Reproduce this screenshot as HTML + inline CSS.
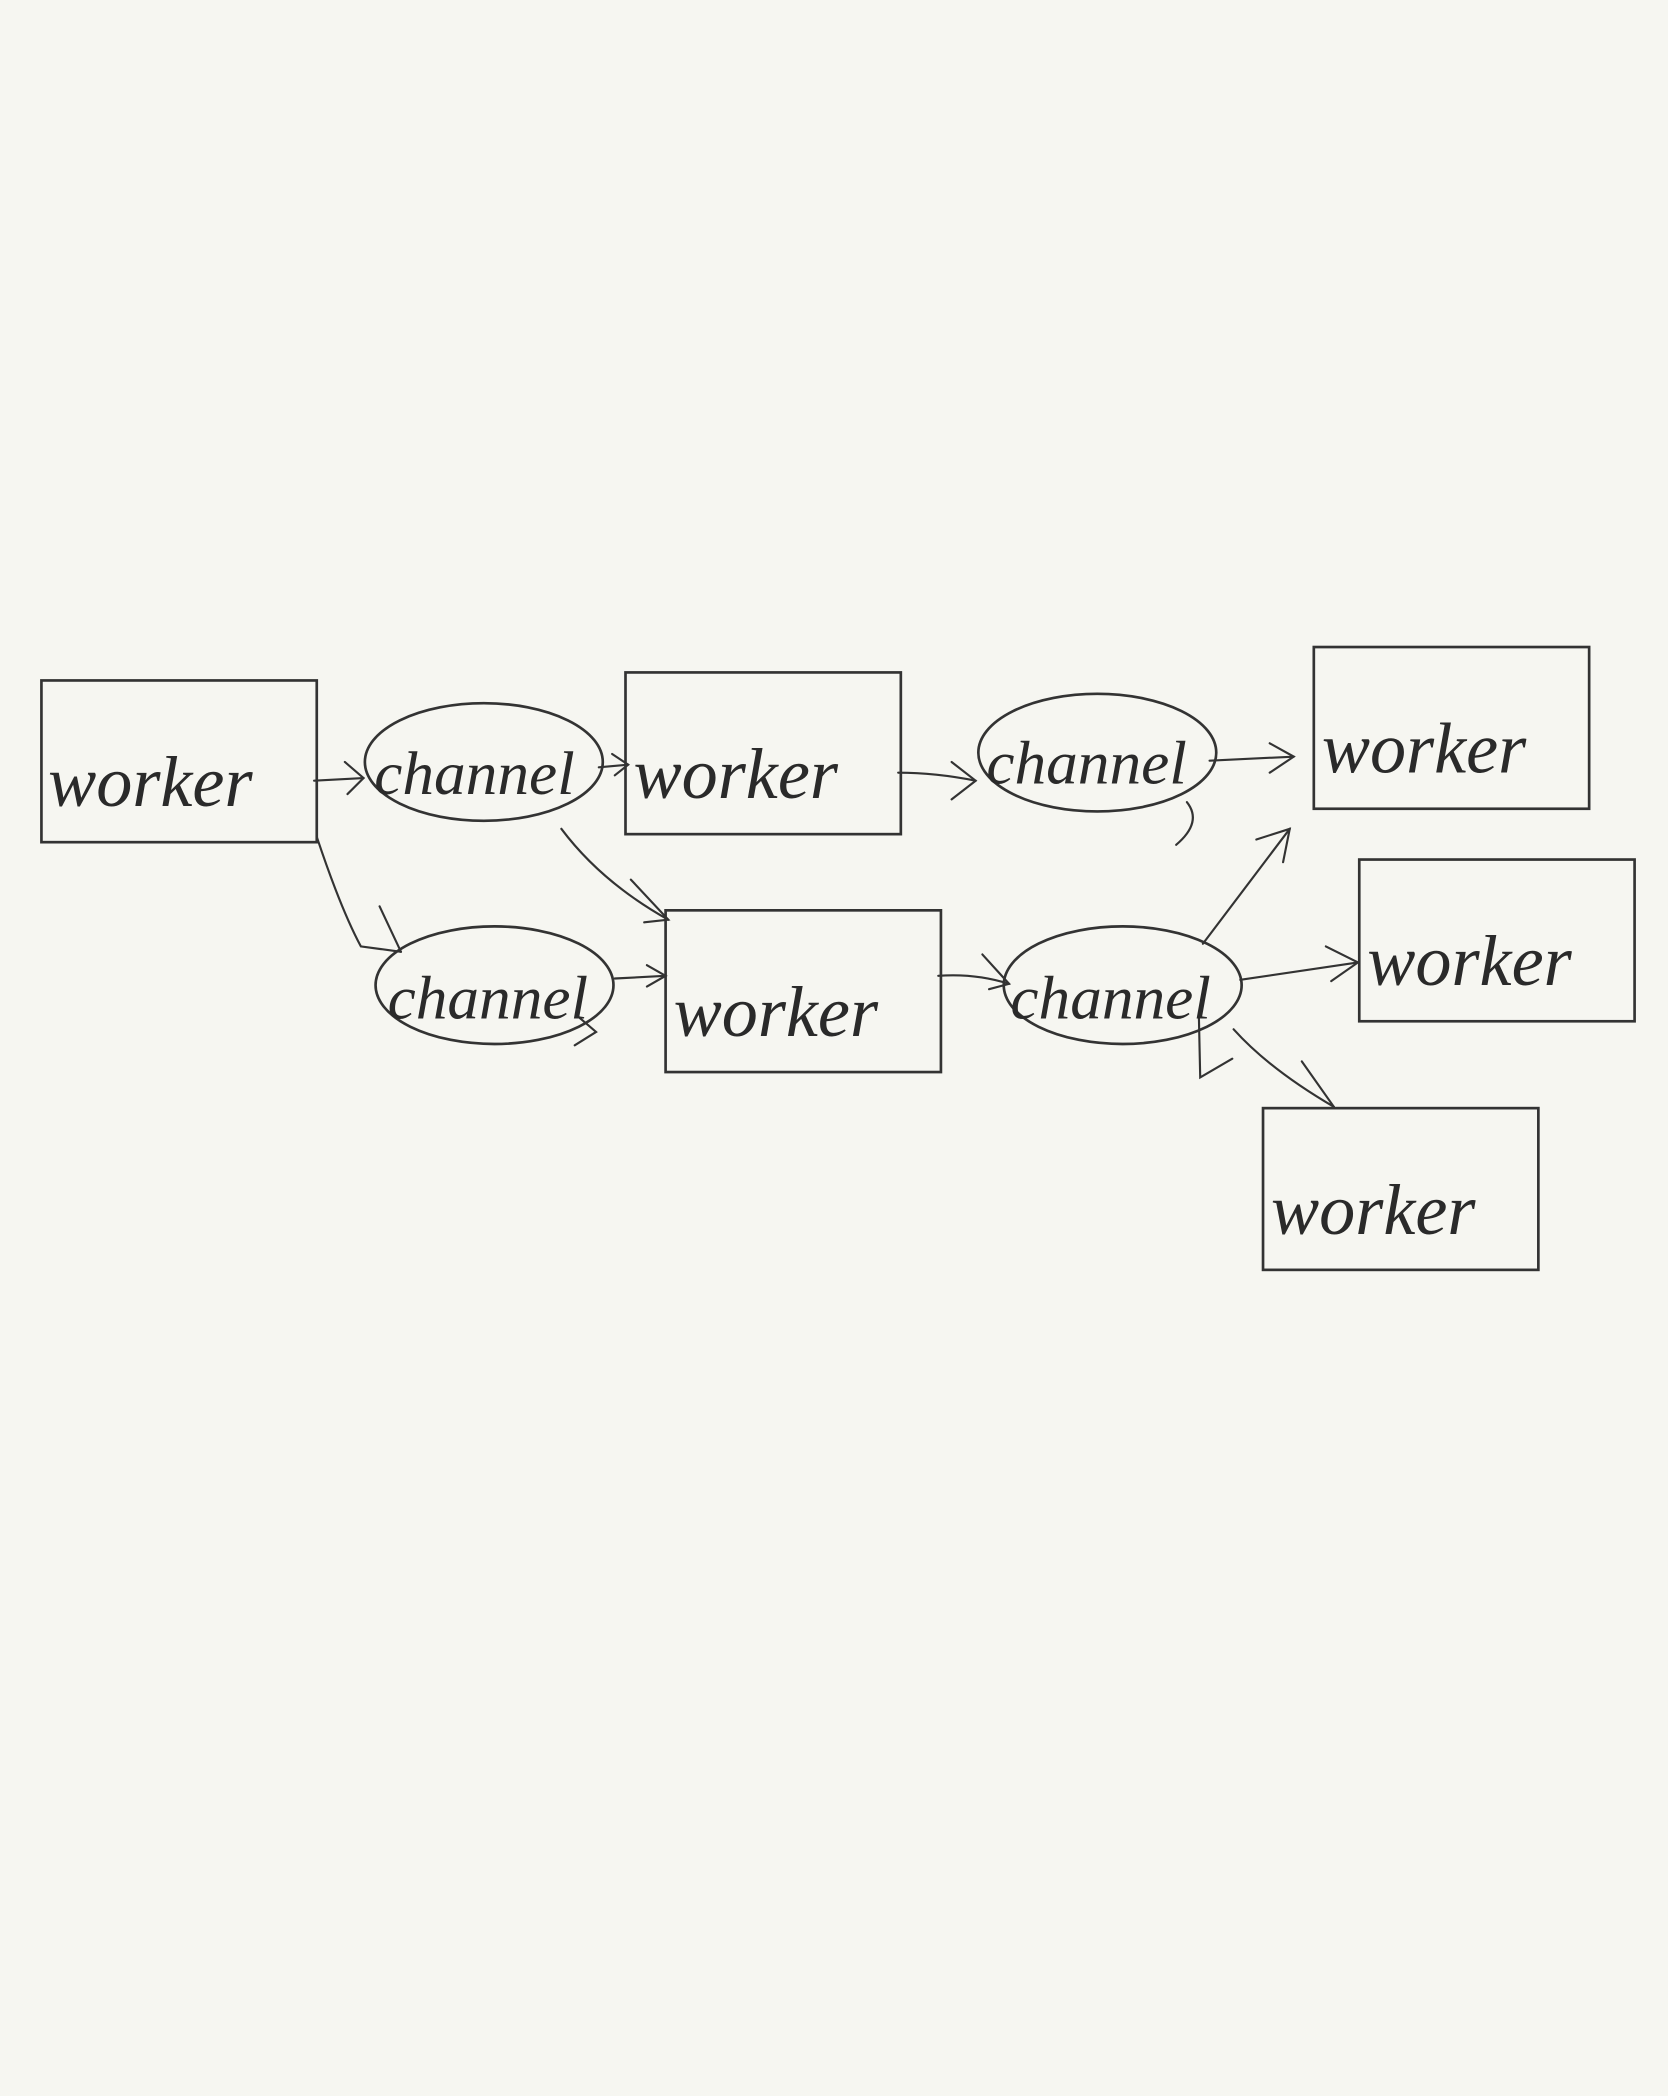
<!DOCTYPE html>
<html><head><meta charset="utf-8"><style>
html,body{margin:0;padding:0;background:#f6f6f1;}
svg{display:block;}
text{font-family:"Liberation Serif",serif;font-style:italic;fill:#2a2a2a;}
</style></head><body>
<svg width="1668" height="2096" viewBox="0 0 1248 1568" xmlns="http://www.w3.org/2000/svg">
<rect width="1248" height="1568" fill="#f6f6f1"/>
<g fill="none" stroke="#333" stroke-width="2">
<rect x="31" y="509" width="206" height="121"/>
<rect x="468" y="503" width="206" height="121"/>
<rect x="983" y="484" width="206" height="121"/>
<rect x="498" y="681" width="206" height="121"/>
<rect x="1017" y="643" width="206" height="121"/>
<rect x="945" y="829" width="206" height="121"/>
<ellipse cx="362" cy="570" rx="89" ry="44"/>
<ellipse cx="821" cy="563" rx="89" ry="44"/>
<ellipse cx="370" cy="737" rx="89" ry="44"/>
<ellipse cx="840" cy="737" rx="89" ry="44"/>
</g>
<g fill="none" stroke="#333" stroke-width="1.6" stroke-linecap="round">
<path d="M235 584 L272 582"/><path d="M258 570 L272 582 L260 594"/>
<path d="M448 574 L470 572"/><path d="M458 564 L470 572 L460 580"/>
<path d="M672 578 Q700 578 730 584"/><path d="M712 570 L730 584 L712 598"/>
<path d="M905 569 L968 566"/><path d="M950 556 L968 566 L950 578"/>
<path d="M888 600 Q900 615 880 632"/>
<path d="M237 626 Q255 680 270 708 L300 712"/><path d="M284 678 L300 712"/>
<path d="M420 620 Q450 660 500 688"/><path d="M472 658 L500 688 L482 690"/>
<path d="M460 732 L498 730"/><path d="M484 722 L498 730 L484 738"/>
<path d="M702 730 Q730 728 755 736"/><path d="M735 714 L755 736 L740 740"/>
<path d="M900 706 L965 620"/><path d="M940 628 L965 620 L960 645"/>
<path d="M928 733 L1016 720"/><path d="M992 708 L1016 720 L996 734"/>
<path d="M923 770 Q950 800 998 828"/><path d="M974 794 L998 828"/>
<path d="M897 760 L898 806 L922 792"/>
<path d="M432 760 L446 772 L430 782"/>
</g>
<g font-size="54">
<text x="36" y="603">worker</text>
<text x="474" y="597">worker</text>
<text x="989" y="578">worker</text>
<text x="504" y="775">worker</text>
<text x="1023" y="737">worker</text>
<text x="951" y="923">worker</text>
</g>
<g font-size="46">
<text x="280" y="594" textLength="150" lengthAdjust="spacingAndGlyphs">channel</text>
<text x="738" y="586" textLength="150" lengthAdjust="spacingAndGlyphs">channel</text>
<text x="290" y="762" textLength="150" lengthAdjust="spacingAndGlyphs">channel</text>
<text x="756" y="762" textLength="150" lengthAdjust="spacingAndGlyphs">channel</text>
</g>
</svg>
</body></html>
